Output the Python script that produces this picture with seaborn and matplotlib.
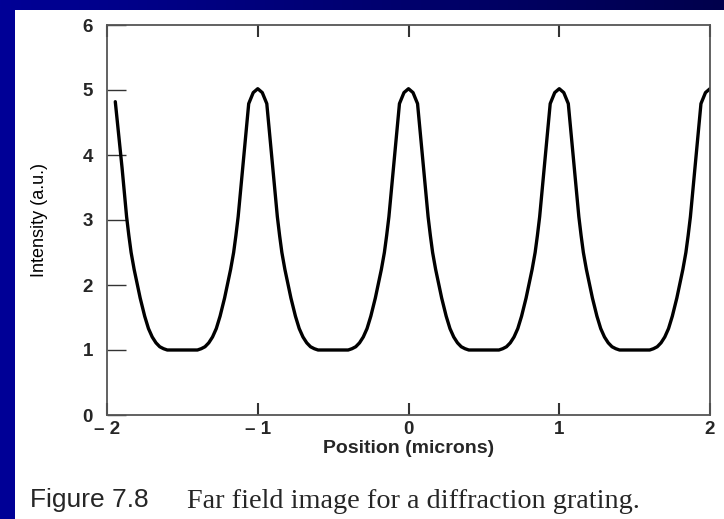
import numpy as np
import pandas as pd
import matplotlib
matplotlib.use("Agg")
import matplotlib.pyplot as plt
import seaborn as sns

# ---- data ----
position = [
    -1.945, -1.90, -1.885, -1.87, -1.855, -1.84, -1.82, -1.80, -1.78, -1.75, -1.725, -1.70,
    -1.675, -1.65, -1.625, -1.60, -1.55, -1.50, -1.45, -1.40, -1.375, -1.35, -1.325, -1.30,
    -1.275, -1.25, -1.22, -1.20, -1.18, -1.16, -1.145, -1.13, -1.115, -1.10, -1.06, -1.03, -1.00,
    -0.97, -0.94, -0.90, -0.885, -0.87, -0.855, -0.84, -0.82, -0.80, -0.78, -0.75, -0.725, -0.70,
    -0.675, -0.65, -0.625, -0.60, -0.55, -0.50, -0.45, -0.40, -0.375, -0.35, -0.325, -0.30,
    -0.275, -0.25, -0.22, -0.20, -0.18, -0.16, -0.145, -0.13, -0.115, -0.10, -0.06, -0.03, 0.00,
    0.03, 0.06, 0.10, 0.115, 0.13, 0.145, 0.16, 0.18, 0.20, 0.22, 0.25, 0.275, 0.30,
    0.325, 0.35, 0.375, 0.40, 0.45, 0.50, 0.55, 0.60, 0.625, 0.65, 0.675, 0.70,
    0.725, 0.75, 0.78, 0.80, 0.82, 0.84, 0.855, 0.87, 0.885, 0.90, 0.94, 0.97, 1.00,
    1.03, 1.06, 1.10, 1.115, 1.13, 1.145, 1.16, 1.18, 1.20, 1.22, 1.25, 1.275, 1.30,
    1.325, 1.35, 1.375, 1.40, 1.45, 1.50, 1.55, 1.60, 1.625, 1.65, 1.675, 1.70,
    1.725, 1.75, 1.78, 1.80, 1.82, 1.84, 1.855, 1.87, 1.885, 1.90, 1.94, 1.97, 2.00,
]
intensity = [
    4.82, 3.80, 3.42, 3.05, 2.76, 2.50, 2.24, 2.02, 1.80, 1.52, 1.33, 1.20,
    1.11, 1.05, 1.02, 1.00, 1.00, 1.00, 1.00, 1.00, 1.02, 1.05, 1.11, 1.20,
    1.33, 1.52, 1.80, 2.02, 2.24, 2.50, 2.76, 3.05, 3.42, 3.80, 4.79, 4.96, 5.02,
    4.96, 4.79, 3.80, 3.42, 3.05, 2.76, 2.50, 2.24, 2.02, 1.80, 1.52, 1.33, 1.20,
    1.11, 1.05, 1.02, 1.00, 1.00, 1.00, 1.00, 1.00, 1.02, 1.05, 1.11, 1.20,
    1.33, 1.52, 1.80, 2.02, 2.24, 2.50, 2.76, 3.05, 3.42, 3.80, 4.79, 4.96, 5.02,
    4.96, 4.79, 3.80, 3.42, 3.05, 2.76, 2.50, 2.24, 2.02, 1.80, 1.52, 1.33, 1.20,
    1.11, 1.05, 1.02, 1.00, 1.00, 1.00, 1.00, 1.00, 1.02, 1.05, 1.11, 1.20,
    1.33, 1.52, 1.80, 2.02, 2.24, 2.50, 2.76, 3.05, 3.42, 3.80, 4.79, 4.96, 5.02,
    4.96, 4.79, 3.80, 3.42, 3.05, 2.76, 2.50, 2.24, 2.02, 1.80, 1.52, 1.33, 1.20,
    1.11, 1.05, 1.02, 1.00, 1.00, 1.00, 1.00, 1.00, 1.02, 1.05, 1.11, 1.20,
    1.33, 1.52, 1.80, 2.02, 2.24, 2.50, 2.76, 3.05, 3.42, 3.80, 4.79, 4.96, 5.02,
]
x_ticks = [-2, -1, 0, 1, 2]
x_tick_labels = ["\u2013 2", "\u2013 1", "0", "1", "2"]
y_ticks = [0, 1, 2, 3, 4, 5, 6]
y_tick_labels = ["0", "1", "2", "3", "4", "5", "6"]
x_label = "Position (microns)"
y_label = "Intensity (a.u.)"
caption_head = "Figure 7.8"
caption_text = "Far field image for a diffraction grating."

df = pd.DataFrame({"position": position, "intensity": intensity})

sns.set_style("white")
plt.rcParams["font.family"] = ["Liberation Sans", "DejaVu Sans"]

W, H = 724, 519
fig = plt.figure(figsize=(W / 100, H / 100), dpi=100)
fig.patch.set_facecolor("white")

# blue frame: left strip + top gradient strip
left_ax = fig.add_axes([0, 0, 15 / W, 1])
left_ax.set_facecolor("#000096")
left_ax.set_xticks([]); left_ax.set_yticks([])
for s in left_ax.spines.values():
    s.set_visible(False)
top_ax = fig.add_axes([0, 1 - 10 / H, 1, 10 / H])
grad = np.linspace(0, 1, 256).reshape(1, -1)
cmap = matplotlib.colors.LinearSegmentedColormap.from_list("navy", ["#000096", "#00004c"])
top_ax.imshow(grad, aspect="auto", cmap=cmap, extent=[0, 1, 0, 1])
top_ax.set_axis_off()

ax = fig.add_axes([107 / W, 104 / H, 603 / W, 390 / H])
sns.lineplot(data=df, x="position", y="intensity", ax=ax, color="black",
             linewidth=2.4, sort=False, estimator=None)

ax.set_xlim(-2, 2)
ax.set_ylim(0, 6)
ax.set_xticks(x_ticks)
ax.set_xticklabels(x_tick_labels, fontweight="bold", fontsize=13.5)
ax.set_yticks(y_ticks)
ax.set_yticklabels(y_tick_labels, fontweight="bold", fontsize=13.5)
ax.tick_params(axis="y", direction="in", length=14, width=1.0, color="#333333",
               left=True, right=False, pad=10)
ax.tick_params(axis="x", direction="in", length=8.5, width=1.5, color="#333333",
               bottom=True, top=True, pad=4)
for s in ax.spines.values():
    s.set_visible(True)
    s.set_color("#555555")
    s.set_linewidth(1.3)

ax.set_xlabel(x_label, fontweight="bold", fontsize=14, labelpad=2)
ax.set_ylabel("")
fig.text(39 / W, 1 - 220 / H, y_label, rotation=90, ha="center", va="center",
         fontsize=13, color="black",
         family=["Liberation Sans Narrow", "Liberation Sans", "DejaVu Sans"])

fig.text(30 / W, 1 - 500 / H, caption_head, ha="left", va="center", fontsize=19,
         family=["Liberation Sans", "DejaVu Sans"])
fig.text(187 / W, 1 - 502 / H, caption_text, ha="left", va="center", fontsize=20.3,
         family=["Liberation Serif", "DejaVu Serif"])

fig.savefig("out.png", dpi=100)
